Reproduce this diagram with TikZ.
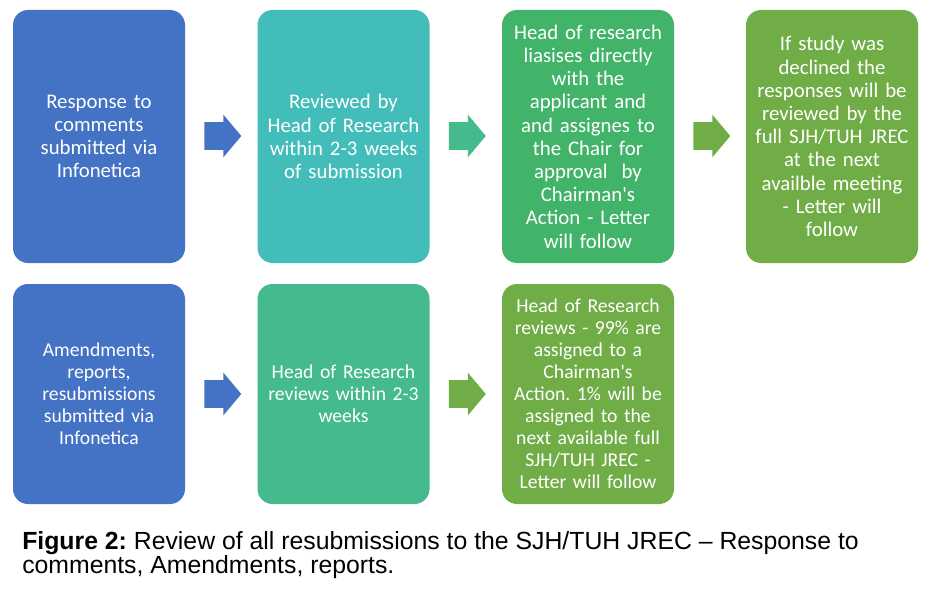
\documentclass[tikz,border=0pt]{standalone}
\usepackage{fontspec}
\setmainfont{Carlito}
\newfontfamily\capfont{Liberation Sans}
\usepackage{tikz}
\usetikzlibrary{shapes.arrows}

\definecolor{stepblue}{HTML}{4472C4}
\definecolor{stepteal}{HTML}{43BDB9}
\definecolor{stepmint}{HTML}{44BA8D}
\definecolor{stepgreen}{HTML}{42B46A}
\definecolor{steplime}{HTML}{70AD47}

\tikzset{
  stepbox/.style={rounded corners=11.25pt, minimum width=129pt, text width=126pt, align=center, text=white, inner sep=0pt},
  toprow/.style={stepbox, minimum height=189.75pt, font=\fontsize{15.6}{17.4}\selectfont},
  lowrow/.style={stepbox, minimum height=165pt, font=\fontsize{14.75}{16.5}\selectfont},
  blockarrow/.style={single arrow, minimum height=27.75pt, minimum width=31.5pt, inner xsep=0pt, inner ysep=10.125pt, single arrow head extend=5.625pt, single arrow tip angle=100, draw=none}
}

\frenchspacing
\begin{document}
\begin{tikzpicture}[line cap=round,line join=round,x=0.75pt,y=-0.75pt]

\useasboundingbox (0,0) rectangle (946,592);

\node[toprow, fill=stepblue] (r1a) at (99,136.5) {Response to\\comments\\submitted via\\Infonetica};
\node[toprow, fill=stepteal] (r1b) at (343.5,136.5) {Reviewed by\\Head of Research\\within 2-3 weeks\\of submission};
\node[toprow, fill=stepgreen] (r1c) at (588,136.5) {Head of research\\liasises directly\\with the\\applicant and\\and assignes to\\the Chair for\\approval\ \ by\\Chairman\textquotesingle s\\Action - Letter\\will follow};
\node[toprow, fill=steplime] (r1d) at (832,136.5) {If study was\\declined the\\responses will be\\reviewed by the\\full SJH/TUH JREC\\at the next\\availble meeting\\- Letter will\\follow};

\node[lowrow, fill=stepblue] (r2a) at (99,394) {Amendments,\\reports,\\resubmissions\\submitted via\\Infonetica};
\node[lowrow, fill=stepmint] (r2b) at (343.5,394) {Head of Research\\reviews within 2-3\\weeks};
\node[lowrow, fill=steplime] (r2c) at (588,394) {Head of Research\\reviews - 99\% are\\assigned to a\\Chairman\textquotesingle s\\Action. 1\% will be\\assigned to the\\next available full\\SJH/TUH JREC -\\Letter will follow};

\node[blockarrow, fill=stepblue] (a1ab) at (217,136) {};
\node[blockarrow, fill=stepmint] (a1bc) at (461.5,136) {};
\node[blockarrow, fill=steplime] (a1cd) at (706,136) {};
\node[blockarrow, fill=stepblue] (a2ab) at (217,394) {};
\node[blockarrow, fill=steplime] (a2bc) at (461.5,394) {};

\node[anchor=base west, align=left, inner sep=0pt, font=\capfont\fontsize{18.6}{18}\selectfont] (cap) at (22,573) {\textbf{Figure 2:} Review of all resubmissions to the SJH/TUH JREC \textendash{} Response to\\comments, Amendments, reports.};
\end{tikzpicture}
\end{document}
